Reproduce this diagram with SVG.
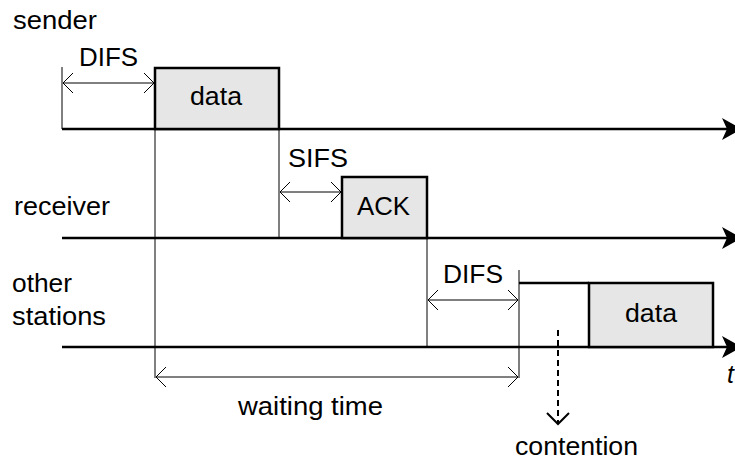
<svg xmlns="http://www.w3.org/2000/svg" width="735" height="459" viewBox="0 0 735 459">
  <style>
    .lbl { font-family: "Liberation Sans", Arial, sans-serif; font-size: 25px; fill: #000; }
    .axis { stroke: #000; stroke-width: 2.5; fill: none; }
    .frame { fill: #e6e6e6; stroke: #000; stroke-width: 2.5; }
    .thin { stroke: #000; stroke-width: 1; fill: none; }
    .dim { stroke: #000; stroke-width: 1; fill: none; marker-start: url(#open); marker-end: url(#open); }
    .dash { stroke: #000; stroke-width: 2; stroke-dasharray: 6 4; fill: none; }
  </style>
  <defs>
    <marker id="open" viewBox="0 0 12 24" refX="11" refY="12" markerWidth="12" markerHeight="24" markerUnits="userSpaceOnUse" orient="auto-start-reverse">
      <path d="M1,2 L11,12 L1,22" fill="none" stroke="#000" stroke-width="1"/>
    </marker>
  </defs>

  <!-- time axes of the three stations -->
  <g id="sender">
    <text class="lbl" x="13" y="29" textLength="84" lengthAdjust="spacingAndGlyphs">sender</text>
    <line class="axis" x1="62" y1="129" x2="728" y2="129"/>
    <path d="M742,129 L722,118 L727,129 L722,140 Z" fill="#000"/>
  </g>
  <g id="receiver">
    <text class="lbl" x="14" y="215" textLength="96" lengthAdjust="spacingAndGlyphs">receiver</text>
    <line class="axis" x1="62" y1="238" x2="728" y2="238"/>
    <path d="M742,238 L722,227 L727,238 L722,249 Z" fill="#000"/>
  </g>
  <g id="others">
    <text class="lbl" x="12" y="292" textLength="60" lengthAdjust="spacingAndGlyphs">other</text>
    <text class="lbl" x="12" y="325" textLength="94" lengthAdjust="spacingAndGlyphs">stations</text>
    <line class="axis" x1="62" y1="347" x2="728" y2="347"/>
    <path d="M742,347 L722,336 L727,347 L722,358 Z" fill="#000"/>
    <text class="lbl" x="727" y="383" font-style="italic">t</text>
  </g>

  <!-- frames -->
  <g id="sender-data">
    <rect class="frame" x="155" y="68" width="124" height="61"/>
    <text class="lbl" x="190" y="105" textLength="52" lengthAdjust="spacingAndGlyphs">data</text>
  </g>
  <g id="ack">
    <rect class="frame" x="342" y="177" width="85" height="61"/>
    <text class="lbl" x="357" y="215" textLength="53" lengthAdjust="spacingAndGlyphs">ACK</text>
  </g>
  <g id="other-data">
    <rect class="frame" x="589" y="283" width="124" height="64"/>
    <text class="lbl" x="625" y="322" textLength="52" lengthAdjust="spacingAndGlyphs">data</text>
  </g>

  <!-- interval markers and guides -->
  <g id="connectors">
    <line class="thin" x1="62" y1="67" x2="62" y2="129"/>
    <line class="thin" x1="155" y1="129" x2="155" y2="378"/>
    <line class="thin" x1="279" y1="129" x2="279" y2="238"/>
    <line class="thin" x1="427" y1="238" x2="427" y2="347"/>
    <line class="thin" x1="519" y1="270" x2="519" y2="378"/>
    <line class="axis" x1="519" y1="283" x2="589" y2="283"/>

    <line class="dim" x1="63" y1="83" x2="154" y2="83"/>
    <text class="lbl" x="79" y="66" textLength="59" lengthAdjust="spacingAndGlyphs">DIFS</text>

    <line class="dim" x1="280" y1="192" x2="341" y2="192"/>
    <text class="lbl" x="288" y="167" textLength="60" lengthAdjust="spacingAndGlyphs">SIFS</text>

    <line class="dim" x1="428" y1="300" x2="518" y2="300"/>
    <text class="lbl" x="443" y="283" textLength="60" lengthAdjust="spacingAndGlyphs">DIFS</text>

    <line class="dim" x1="156" y1="377" x2="518" y2="377"/>
    <text class="lbl" x="238" y="415" textLength="145" lengthAdjust="spacingAndGlyphs">waiting time</text>

    <line class="dash" x1="558" y1="330" x2="558" y2="424"/>
    <path d="M547,413 L558,424 L569,413" fill="none" stroke="#000" stroke-width="2"/>
    <text class="lbl" x="515" y="455" textLength="123" lengthAdjust="spacingAndGlyphs">contention</text>
  </g>
</svg>
